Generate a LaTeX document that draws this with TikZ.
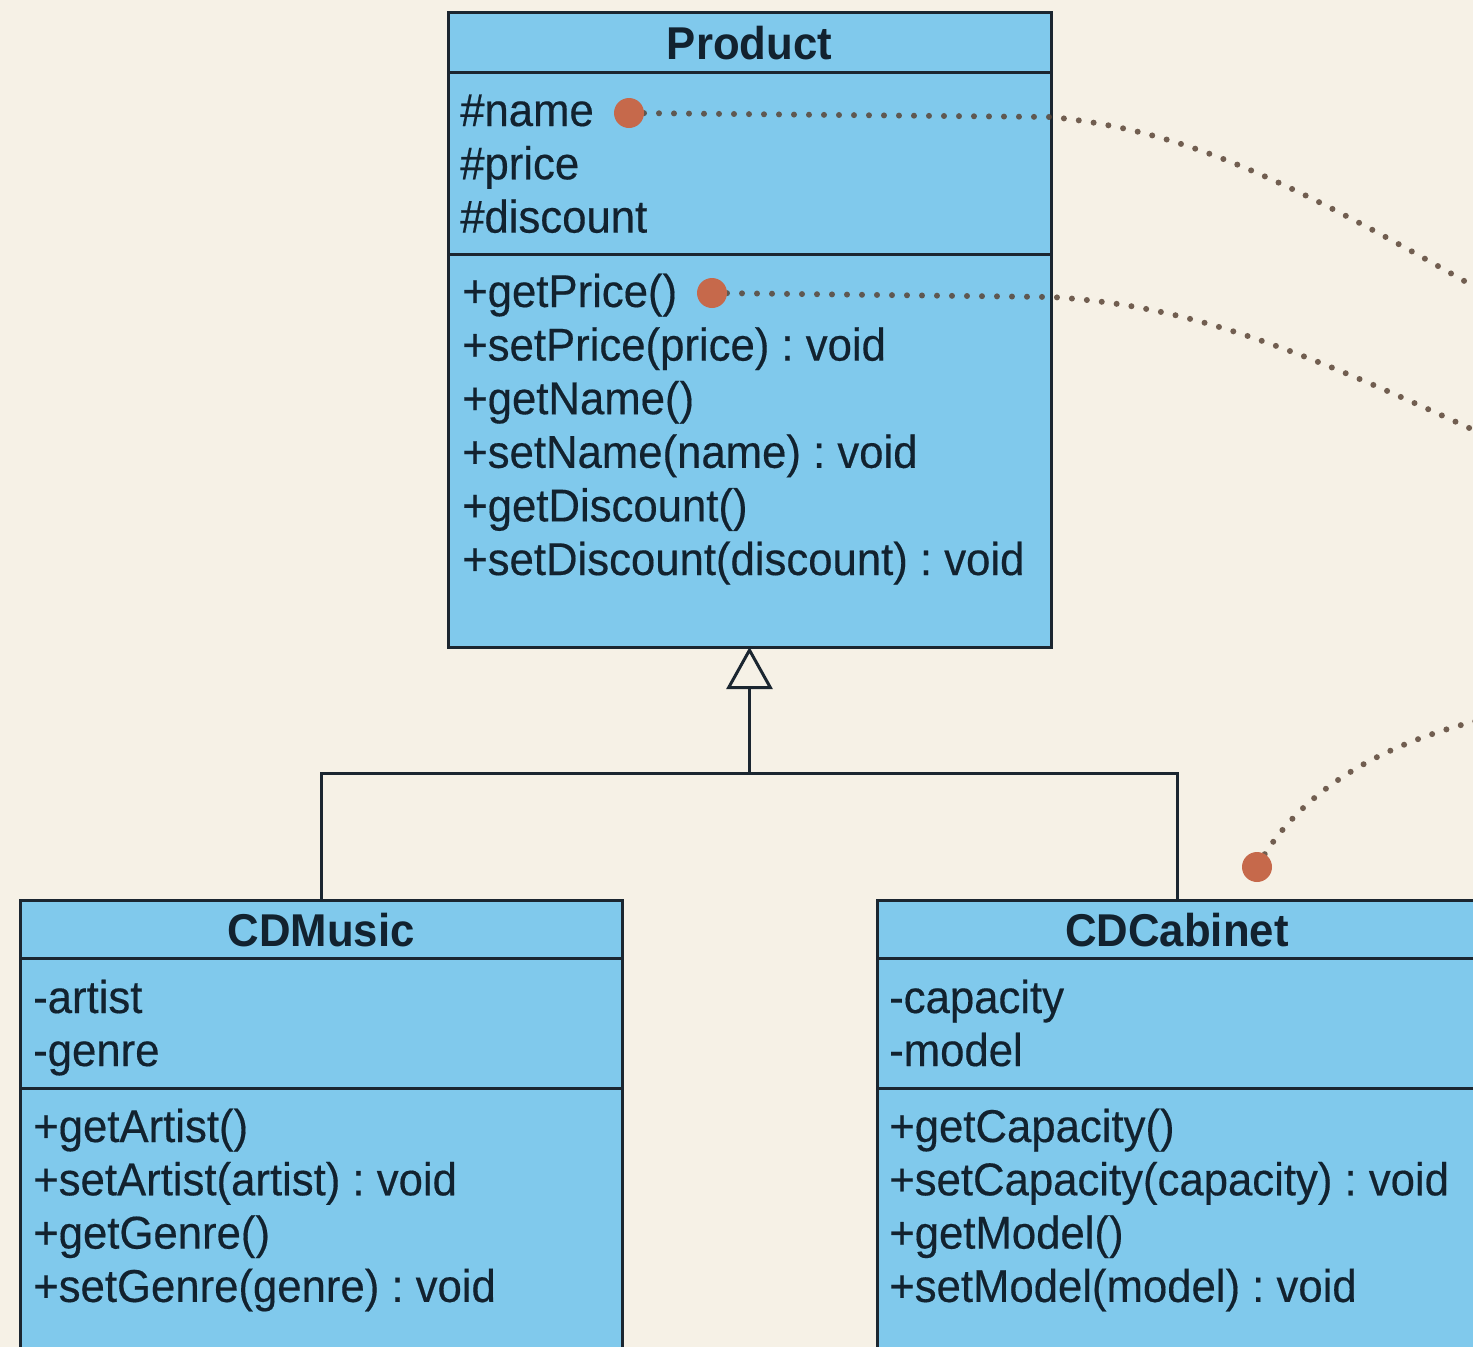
\documentclass[tikz,border=0pt]{standalone}
\usepackage{fontspec}
\setmainfont{Liberation Sans}[FakeStretch=0.95, UprightFeatures={FakeBold=0.35}]
\usetikzlibrary{arrows.meta}
\definecolor{paper}{HTML}{F6F1E6}
\definecolor{classfill}{HTML}{80C9EC}
\definecolor{ink}{HTML}{12222F}
\definecolor{edge}{HTML}{1B2630}
\definecolor{pin}{HTML}{C6694B}
\definecolor{trail}{HTML}{5A4536}

\begin{document}
\frenchspacing
\begin{tikzpicture}[x=1pt,y=-1pt,
  classbox/.style={draw=edge, line width=3pt, fill=classfill, inner sep=0pt, outer sep=0pt},
  divider/.style={draw=edge, line width=3pt},
  classname/.style={font=\fontsize{46}{54}\selectfont\bfseries, text=ink, anchor=base, inner sep=0pt},
  member/.style={font=\fontsize{46}{54}\selectfont, text=ink, anchor=base west, inner sep=0pt},
  link/.style={draw=edge, line width=3pt},
  trailline/.style={draw=trail, opacity=0.85, line width=6pt, line cap=round, dash pattern=on 0pt off 15pt},
  pindot/.style={circle, fill=pin, minimum size=30pt, inner sep=0pt, outer sep=0pt},
]
% canvas
\fill[paper] (0,0) rectangle (1473,1347);
\useasboundingbox (0,0) rectangle (1473,1347);
\clip (0,0) rectangle (1473,1347);

% ---------- Product ----------
\node[classbox, minimum width=603pt, minimum height=635pt] (product) at (749.5,329.5) {};
\draw[divider] (product.west |- 0,72) -- (product.east |- 0,72);
\draw[divider] (product.west |- 0,254) -- (product.east |- 0,254);
\node[classname] (product-title) at (749.5,59) {Product};
\foreach \txt [count=\i] in {\#name,\#price,\#discount}
  \node[member] (product-attr-\i) at (460,{126+53.3*(\i-1)}) {\txt};
\foreach \txt [count=\i] in {+getPrice(),+setPrice(price) : void,+getName(),+setName(name) : void,+getDiscount(),+setDiscount(discount) : void}
  \node[member] (product-op-\i) at (462,{307+53.6*(\i-1)}) {\txt};

% ---------- CDMusic ----------
\node[classbox, minimum width=602pt, minimum height=480pt] (cdmusic) at (321,1140) {};
\draw[divider] (cdmusic.west |- 0,958) -- (cdmusic.east |- 0,958);
\draw[divider] (cdmusic.west |- 0,1088) -- (cdmusic.east |- 0,1088);
\node[classname] (cdmusic-title) at (321,946) {CDMusic};
\foreach \txt [count=\i] in {-artist,-genre}
  \node[member] (cdmusic-attr-\i) at (33,{1013+53*(\i-1)}) {\txt};
\foreach \txt [count=\i] in {+getArtist(),+setArtist(artist) : void,+getGenre(),+setGenre(genre) : void}
  \node[member] (cdmusic-op-\i) at (33,{1142+53.3*(\i-1)}) {\txt};

% ---------- CDCabinet ----------
\node[classbox, minimum width=600pt, minimum height=480pt] (cdcabinet) at (1177,1140) {};
\draw[divider] (cdcabinet.west |- 0,958) -- (cdcabinet.east |- 0,958);
\draw[divider] (cdcabinet.west |- 0,1088) -- (cdcabinet.east |- 0,1088);
\node[classname] (cdcabinet-title) at (1177,946) {CDCabinet};
\foreach \txt [count=\i] in {-capacity,-model}
  \node[member] (cdcabinet-attr-\i) at (889,{1013+53*(\i-1)}) {\txt};
\foreach \txt [count=\i] in {+getCapacity(),+setCapacity(capacity) : void,+getModel(),+setModel(model) : void}
  \node[member] (cdcabinet-op-\i) at (889,{1142+53.3*(\i-1)}) {\txt};

% ---------- generalisation ----------
\coordinate (bus) at (product.south |- 0,773);
\draw[link] (cdmusic.north) -- (cdmusic.north |- bus) -- (cdcabinet.north |- bus) -- (cdcabinet.north);
\draw[link, -{Triangle[open, length=42pt, width=46pt]}] (bus) -- (product.south);

% ---------- annotation trails ----------
\coordinate (pin1) at (629,113);
\coordinate (pin2) at (712,293);
\coordinate (pin3) at (1257,867);
\coordinate (trail1-end) at (1480,290);
\coordinate (trail2-end) at (1480,433);
\coordinate (trail3-end) at (1480,720);
\draw[trailline] (pin1) -- (product.east |- 0,117) .. controls (1180,130) and (1280,175) .. (trail1-end);
\draw[trailline] (pin2) -- (product.east |- 0,297) .. controls (1180,305) and (1280,340) .. (trail2-end);
\draw[trailline] (pin3) .. controls (1300,790) and (1380,745) .. (trail3-end);
\node[pindot] (dot1) at (pin1) {};
\node[pindot] (dot2) at (pin2) {};
\node[pindot] (dot3) at (pin3) {};
\end{tikzpicture}
\end{document}
